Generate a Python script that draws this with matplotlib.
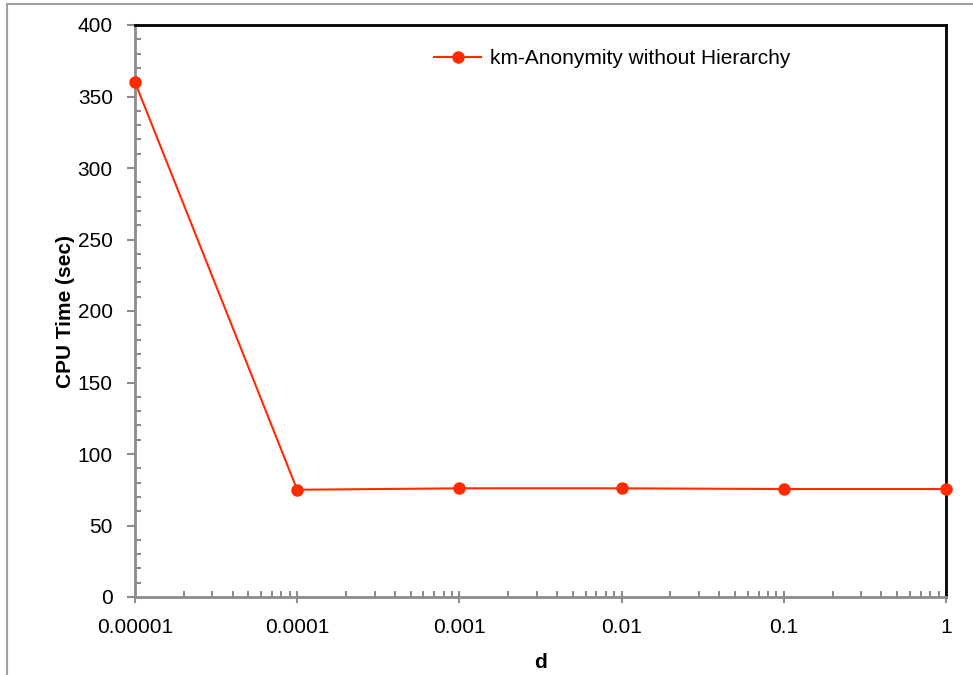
import matplotlib.pyplot as plt
from matplotlib.lines import Line2D
from matplotlib.ticker import FixedLocator, LogLocator, NullFormatter, MultipleLocator

plt.rcParams['font.family'] = ['Liberation Sans', 'DejaVu Sans']

# data
d_values = [0.00001, 0.0001, 0.001, 0.01, 0.1, 1]
d_labels = ['0.00001', '0.0001', '0.001', '0.01', '0.1', '1']
cpu_time = [360, 75, 76, 76, 75.5, 75.5]
series_name = 'km-Anonymity without Hierarchy'

W, H = 973, 675
fig = plt.figure(figsize=(W / 100, H / 100), dpi=100)
ax = fig.add_axes([135 / W, 1 - 597 / H, (946 - 135) / W, (597 - 25) / H])

red = '#ff2a00'
ax.plot(d_values, cpu_time, color=red, linewidth=1.5, marker='o',
        markersize=9, markeredgewidth=0, label=series_name, clip_on=False, zorder=5)

ax.set_xscale('log')
ax.set_xlim(0.00001, 1)
ax.set_ylim(0, 400)

ax.xaxis.set_major_locator(FixedLocator(d_values))
ax.set_xticklabels(d_labels)
ax.xaxis.set_minor_locator(LogLocator(base=10, subs=range(2, 10)))
ax.xaxis.set_minor_formatter(NullFormatter())
ax.yaxis.set_major_locator(MultipleLocator(50))
ax.yaxis.set_minor_locator(MultipleLocator(10))

grey = '#8c8c8c'
for side in ('left', 'bottom'):
    ax.spines[side].set_color(grey)
    ax.spines[side].set_linewidth(2)
for side in ('top', 'right'):
    ax.spines[side].set_color('black')
    ax.spines[side].set_linewidth(2)

fs = 15
ax.tick_params(axis='y', which='major', direction='out', length=6, width=1.5,
               color=grey, labelsize=fs, pad=10)
ax.tick_params(axis='y', which='minor', direction='in', length=4, width=1.5, color=grey)
ax.tick_params(axis='x', which='major', direction='inout', length=8, width=1.5,
               color=grey, labelsize=fs, pad=11)
ax.tick_params(axis='x', which='minor', direction='in', length=4, width=1.5, color=grey)

ax.set_ylabel('CPU Time (sec)', fontsize=fs, fontweight='bold', labelpad=2)
ax.set_xlabel('d', fontsize=fs, fontweight='bold', labelpad=12)

ax.legend(loc='upper left', bbox_to_anchor=(0.345, 0.99), frameon=False,
          fontsize=fs, handlelength=2.3, handletextpad=0.4)

# outer grey frame (left and top edges only)
fig.add_artist(Line2D([7 / W, 7 / W], [0, 1 - 4 / H], color='#a0a0a0', linewidth=1.5))
fig.add_artist(Line2D([7 / W, 1], [1 - 4 / H, 1 - 4 / H], color='#a0a0a0', linewidth=1.5))

fig.savefig('out.png', dpi=100)
